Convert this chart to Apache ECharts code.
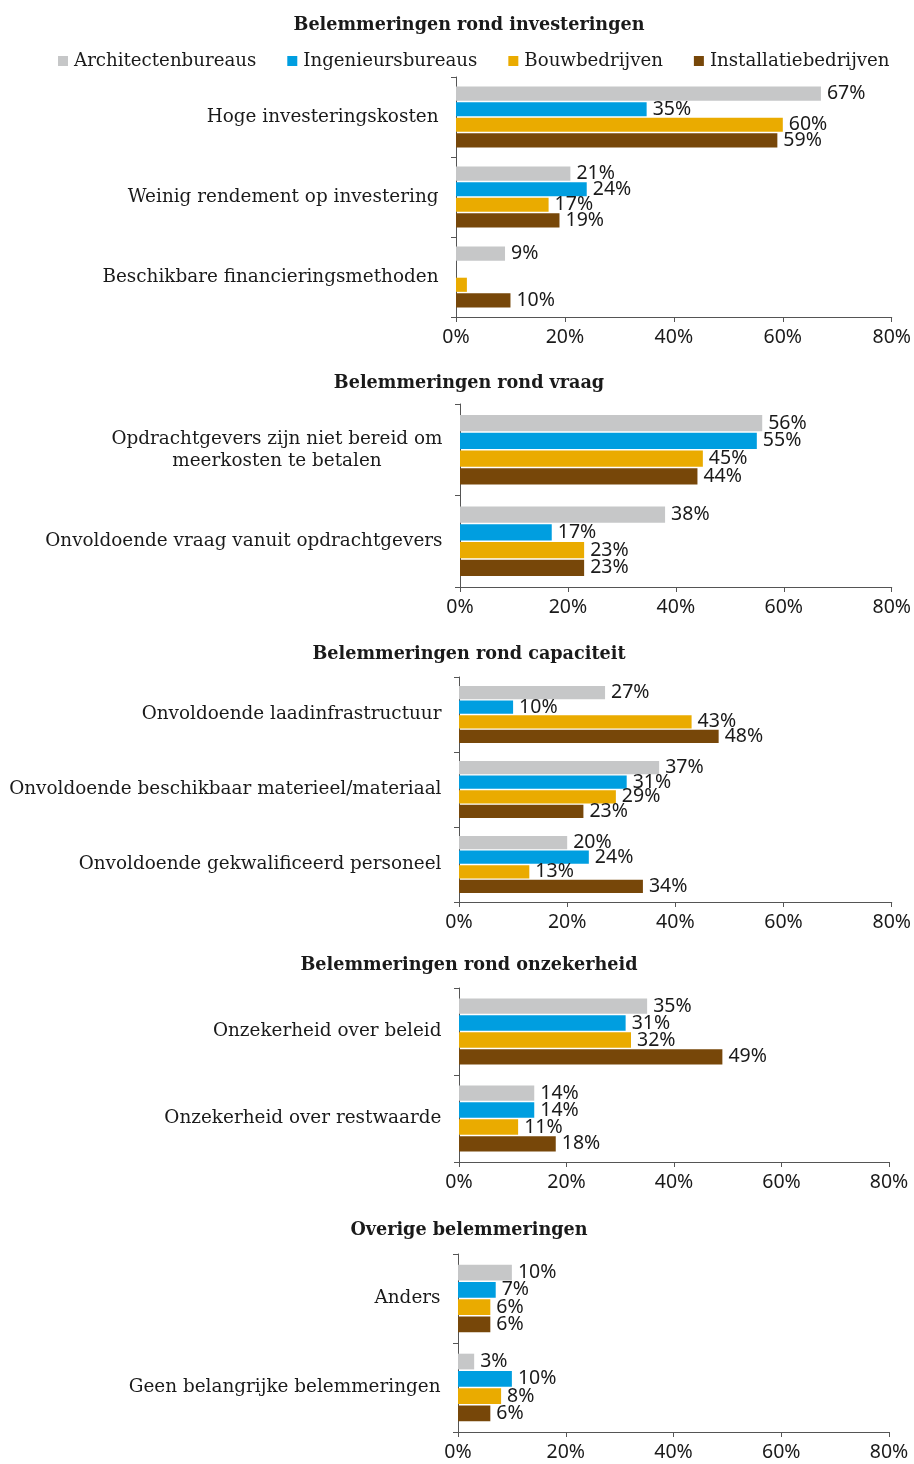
<!DOCTYPE html>
<html>
<head>
<meta charset="utf-8">
<script src="https://cdn.jsdelivr.net/npm/echarts@6/dist/echarts.min.js"></script>
<style>
html,body{margin:0;padding:0;background:#fff;}
#chart{width:914px;height:1464px;}
</style>
</head>
<body>
<div id="chart"></div>
<script>
// ---- DATA ----
const seriesNames = ['Architectenbureaus', 'Ingenieursbureaus', 'Bouwbedrijven', 'Installatiebedrijven'];
const panelTitles = ['Belemmeringen rond investeringen', 'Belemmeringen rond vraag', 'Belemmeringen rond capaciteit', 'Belemmeringen rond onzekerheid', 'Overige belemmeringen'];
const xTicks = [0, 20, 40, 60, 80];

const investCats = ['Hoge investeringskosten', 'Weinig rendement op investering', 'Beschikbare financieringsmethoden'];
const investArch = [67, 21, 9];
const investIng = [35, 24, 0];
const investBouw = [60, 17, 2];
const investInst = [59, 19, 10];

const vraagCats = ['Opdrachtgevers zijn niet bereid om\nmeerkosten te betalen', 'Onvoldoende vraag vanuit opdrachtgevers'];
const vraagArch = [56, 38];
const vraagIng = [55, 17];
const vraagBouw = [45, 23];
const vraagInst = [44, 23];

const capCats = ['Onvoldoende laadinfrastructuur', 'Onvoldoende beschikbaar materieel/materiaal', 'Onvoldoende gekwalificeerd personeel'];
const capArch = [27, 37, 20];
const capIng = [10, 31, 24];
const capBouw = [43, 29, 13];
const capInst = [48, 23, 34];

const onzCats = ['Onzekerheid over beleid', 'Onzekerheid over restwaarde'];
const onzArch = [35, 14];
const onzIng = [31, 14];
const onzBouw = [32, 11];
const onzInst = [49, 18];

const overCats = ['Anders', 'Geen belangrijke belemmeringen'];
const overArch = [10, 3];
const overIng = [7, 10];
const overBouw = [6, 8];
const overInst = [6, 6];

// ---- STYLE / LAYOUT ----
const colors = ['#C6C7C8', '#009EE0', '#EAAB00', '#774709'];
const serif = 'DejaVu Serif';
const sans = 'Noto Sans';
const textColor = '#1a1a1a';
const axisColor = '#555';

const panels = [
  {cats: investCats, data: [investArch, investIng, investBouw, investInst], grid: {left: 456, right: 22, top: 77, height: 240}, titleY: 11},
  {cats: vraagCats, data: [vraagArch, vraagIng, vraagBouw, vraagInst], grid: {left: 460, right: 22, top: 404, height: 183}, titleY: 369},
  {cats: capCats, data: [capArch, capIng, capBouw, capInst], grid: {left: 459, right: 20, top: 677, height: 225}, titleY: 640},
  {cats: onzCats, data: [onzArch, onzIng, onzBouw, onzInst], grid: {left: 459, right: 25, top: 988, height: 174}, titleY: 951},
  {cats: overCats, data: [overArch, overIng, overBouw, overInst], grid: {left: 458, right: 25, top: 1254, height: 178}, titleY: 1216}
];

const grids = [], xAxes = [], yAxes = [], series = [], titles = [];
panels.forEach((p, i) => {
  grids.push(Object.assign({containLabel: false}, p.grid));
  titles.push({
    text: panelTitles[i], left: 464, top: p.titleY, textAlign: 'center',
    textStyle: {fontFamily: serif, fontWeight: 'bold', fontSize: 17.6, color: textColor}
  });
  xAxes.push({
    type: 'value', gridIndex: i, min: xTicks[0], max: xTicks[xTicks.length - 1], interval: xTicks[1] - xTicks[0],
    splitLine: {show: false},
    axisLine: {show: true, lineStyle: {color: axisColor, width: 1}},
    axisTick: {show: true, length: 5, lineStyle: {color: axisColor}},
    axisLabel: {formatter: '{value}%', fontFamily: sans, fontSize: 19.5, color: textColor, margin: 10}
  });
  yAxes.push({
    type: 'category', gridIndex: i, data: p.cats, inverse: true,
    axisLine: {show: true, lineStyle: {color: axisColor, width: 1}},
    axisTick: {show: true, length: 5, lineStyle: {color: axisColor}},
    axisLabel: {
      margin: 17.5, color: textColor,
      formatter: v => v.split('\n').map(s => '{c|' + s + '}').join('\n'),
      rich: {c: {fontFamily: serif, fontSize: 18.4, color: textColor, align: 'center', lineHeight: 22}}
    }
  });
  p.data.forEach((vals, s) => {
    series.push({
      type: 'bar', name: seriesNames[s], xAxisIndex: i, yAxisIndex: i, data: vals,
      barGap: '10%', barCategoryGap: '24%',
      itemStyle: {color: colors[s]},
      label: {
        show: true, position: 'right', distance: 6,
        fontFamily: sans, fontSize: 19.5, color: textColor,
        formatter: d => d.value < 3 ? '' : d.value + '%'
      }
    });
  });
});

const chart = echarts.init(document.getElementById('chart'), null, {renderer: 'canvas'});
chart.setOption({
  animation: false,
  backgroundColor: '#fff',
  title: titles,
  legend: {
    data: seriesNames, top: 47, left: 53, icon: 'rect', itemWidth: 10, itemHeight: 10, itemGap: 31,
    textStyle: {fontFamily: serif, fontSize: 18.2, color: textColor, padding: [0, 0, 0, 1]}
  },
  grid: grids, xAxis: xAxes, yAxis: yAxes, series: series
});
</script>
</body>
</html>
